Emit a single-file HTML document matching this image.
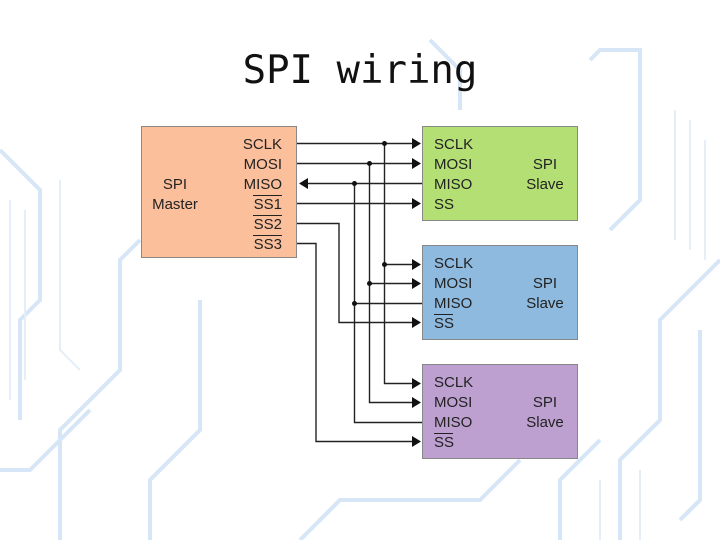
<!DOCTYPE html>
<html><head><style>
html,body{margin:0;padding:0;width:720px;height:540px;overflow:hidden;background:#fff}
svg{display:block}
.t{font-family:"Liberation Sans",sans-serif;font-size:15px;fill:#222}
</style></head><body>
<svg width="720" height="540" viewBox="0 0 720 540">
<g stroke="#d6e6f6" stroke-width="4" fill="none">
<path d="M0 150 L40 190 L40 300 L20 320 L20 420"/>
<path d="M60 540 L60 430 L120 370 L120 260 L140 240"/>
<path d="M0 470 L30 470 L90 410"/>
<path d="M150 540 L150 480 L200 430 L200 300"/>
<path d="M720 260 L660 320 L660 420 L620 460 L620 540"/>
<path d="M680 520 L700 500 L700 330"/>
<path d="M590 60 L600 50 L640 50 L640 200 L610 230"/>
<path d="M560 540 L560 480 L600 440"/>
<path d="M300 540 L340 500 L480 500 L520 460"/>
<path d="M430 40 L460 70 L460 110"/>
</g>
<g stroke="#e4eef9" stroke-width="2" fill="none">
<path d="M10 200 L10 400 M25 210 L25 380 M60 180 L60 350 L80 370"/>
<path d="M690 120 L690 250 M675 110 L675 240 M705 140 L705 260"/>
<path d="M600 480 L600 540 M640 470 L640 540"/>
</g>
<text x="360" y="83" text-anchor="middle" font-family="'DejaVu Sans Mono','Liberation Mono',monospace" font-size="39" fill="#111">SPI wiring</text>

<rect x="141.5" y="126.5" width="155" height="131" fill="#fbbf9b" stroke="#888"/>
<rect x="422.5" y="126.5" width="155" height="94" fill="#b4df75" stroke="#888"/>
<rect x="422.5" y="245.5" width="155" height="94" fill="#8fbadf" stroke="#888"/>
<rect x="422.5" y="364.5" width="155" height="94" fill="#bda0d0" stroke="#888"/>

<g class="t">
<text x="282" y="149" text-anchor="end">SCLK</text>
<text x="282" y="169" text-anchor="end">MOSI</text>
<text x="282" y="189" text-anchor="end">MISO</text>
<text x="282" y="209" text-anchor="end">SS1</text>
<text x="282" y="229" text-anchor="end">SS2</text>
<text x="282" y="249" text-anchor="end">SS3</text>
<text x="175" y="189" text-anchor="middle">SPI</text>
<text x="175" y="209" text-anchor="middle">Master</text>
</g>
<g stroke="#222" stroke-width="1">
<line x1="253" y1="195.5" x2="282" y2="195.5"/>
<line x1="253" y1="215.5" x2="282" y2="215.5"/>
<line x1="253" y1="235.5" x2="282" y2="235.5"/>
</g>

<g class="t">
<text x="434" y="149">SCLK</text><text x="434" y="169">MOSI</text><text x="434" y="189">MISO</text><text x="434" y="209">SS</text>
<text x="545" y="169" text-anchor="middle">SPI</text><text x="545" y="189" text-anchor="middle">Slave</text>
<text x="434" y="268">SCLK</text><text x="434" y="288">MOSI</text><text x="434" y="308">MISO</text><text x="434" y="328">SS</text>
<text x="545" y="288" text-anchor="middle">SPI</text><text x="545" y="308" text-anchor="middle">Slave</text>
<text x="434" y="387">SCLK</text><text x="434" y="407">MOSI</text><text x="434" y="427">MISO</text><text x="434" y="447">SS</text>
<text x="545" y="407" text-anchor="middle">SPI</text><text x="545" y="427" text-anchor="middle">Slave</text>
</g>
<g stroke="#222" stroke-width="1">
<line x1="434" y1="314.5" x2="453" y2="314.5"/>
<line x1="434" y1="433.5" x2="453" y2="433.5"/>
</g>

<g stroke="#222" stroke-width="1.4" fill="none">
<path d="M297 143.5 H414"/>
<path d="M297 163.5 H414"/>
<path d="M306 183.5 H422"/>
<path d="M297 203.5 H414"/>
<path d="M297 223.5 H339 V322.5 H414"/>
<path d="M297 243.5 H316 V441.5 H414"/>
<path d="M384.5 143 V383.5 H414"/>
<path d="M369.5 163 V402.5 H414"/>
<path d="M354.5 183 V422.5 H422"/>
<path d="M384 264.5 H414"/>
<path d="M369 283.5 H414"/>
<path d="M354 303.5 H422"/>
</g>
<g fill="#111">
<path d="M412 138 L421 143.5 L412 149Z"/>
<path d="M412 158 L421 163.5 L412 169Z"/>
<path d="M412 198 L421 203.5 L412 209Z"/>
<path d="M412 259 L421 264.5 L412 270Z"/>
<path d="M412 278 L421 283.5 L412 289Z"/>
<path d="M412 317 L421 322.5 L412 328Z"/>
<path d="M412 378 L421 383.5 L412 389Z"/>
<path d="M412 397 L421 402.5 L412 408Z"/>
<path d="M412 436 L421 441.5 L412 447Z"/>
<path d="M308 178 L299 183.5 L308 189Z"/>
<circle cx="384.5" cy="143.5" r="2.5"/>
<circle cx="369.5" cy="163.5" r="2.5"/>
<circle cx="354.5" cy="183.5" r="2.5"/>
<circle cx="384.5" cy="264.5" r="2.5"/>
<circle cx="369.5" cy="283.5" r="2.5"/>
<circle cx="354.5" cy="303.5" r="2.5"/>
</g>
</svg>
</body></html>
